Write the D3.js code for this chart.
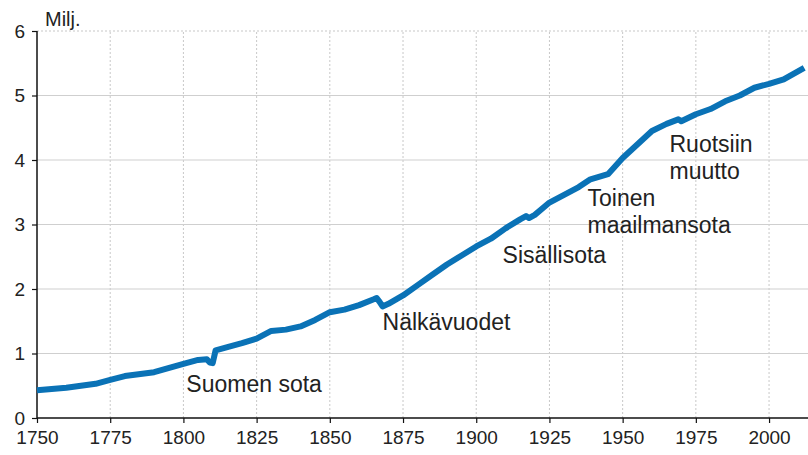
<!DOCTYPE html>
<html>
<head>
<meta charset="utf-8">
<script src="https://cdn.jsdelivr.net/npm/d3@7"></script>
<style>
  body { margin: 0; background: #fff; }
  text { font-family: "Liberation Sans", Arial, sans-serif; fill: #222; }
</style>
</head>
<body>
<div id="chart"></div>
<script>
// Finland population, millions
const years = [1750, 1760, 1770, 1775, 1780, 1790, 1800, 1805, 1808, 1809, 1810, 1811, 1815, 1820, 1825,
  1830, 1835, 1840, 1845, 1850, 1855, 1860, 1865, 1866, 1867, 1868, 1870, 1875, 1880, 1885, 1890, 1895,
  1900, 1905, 1910, 1915, 1917, 1918, 1920, 1925, 1930, 1935, 1939, 1945, 1950, 1955, 1960, 1965,
  1969, 1970, 1975, 1980, 1985, 1990, 1995, 2000, 2005, 2012]
const population = [0.43, 0.47, 0.53, 0.59, 0.65, 0.71, 0.84, 0.90, 0.91, 0.86, 0.85, 1.05, 1.10, 1.16, 1.23,
  1.35, 1.37, 1.42, 1.52, 1.64, 1.68, 1.75, 1.84, 1.86, 1.80, 1.73, 1.77, 1.90, 2.06, 2.22, 2.38, 2.52,
  2.66, 2.78, 2.94, 3.08, 3.13, 3.10, 3.15, 3.34, 3.46, 3.58, 3.70, 3.78, 4.03, 4.24, 4.45, 4.56,
  4.63, 4.60, 4.71, 4.79, 4.91, 5.00, 5.12, 5.18, 5.25, 5.43]
const xTicks = [1750, 1775, 1800, 1825, 1850, 1875, 1900, 1925, 1950, 1975, 2000]
const yTicks = [0, 1, 2, 3, 4, 5, 6]
const notes = [
  { lines: ['Suomen sota'], year: 1801, value: 0.41 },
  { lines: ['Nälkävuodet'], year: 1868, value: 1.37 },
  { lines: ['Sisällisota'], year: 1909, value: 2.41 },
  { lines: ['Toinen', 'maailmansota'], year: 1938, value: 3.29 },
  { lines: ['Ruotsiin', 'muutto'], year: 1966, value: 4.13 }
]

const width = 808
const height = 455
const margin = { top: 31, right: 0, bottom: 37, left: 37 }

const svg = d3.select('#chart')
  .append('svg')
  .attr('width', width)
  .attr('height', height)

const x = d3.scaleLinear().domain([1750, 2013.3]).range([margin.left, width - margin.right])
const y = d3.scaleLinear().domain([0, 6]).range([height - margin.bottom, margin.top])

// Grid
svg.append('g')
  .selectAll('line')
  .data(xTicks.slice(1))
  .join('line')
  .attr('x1', d => x(d)).attr('x2', d => x(d))
  .attr('y1', y(0)).attr('y2', y(6))
  .attr('stroke', '#c8c8c8')
  .attr('stroke-dasharray', '2,2')

svg.append('g')
  .selectAll('line')
  .data(yTicks.slice(1))
  .join('line')
  .attr('x1', x(1750)).attr('x2', width)
  .attr('y1', d => y(d)).attr('y2', d => y(d))
  .attr('stroke', d => d === 6 ? '#c8c8c8' : '#cfcfcf')
  .attr('stroke-dasharray', d => d === 6 ? '2,2' : null)
  .attr('stroke-width', 1.2)

// Axes
const xAxis = svg.append('g')
  .attr('transform', `translate(0,${y(0)})`)
  .call(d3.axisBottom(x).tickValues(xTicks).tickFormat(d3.format('d')).tickSize(5).tickPadding(8))
xAxis.select('.domain').attr('stroke', '#111').attr('stroke-width', 1.5).attr('d', `M${x(1750)},0H${width}`)

const yAxis = svg.append('g')
  .attr('transform', `translate(${x(1750)},0)`)
  .call(d3.axisLeft(y).tickValues(yTicks).tickFormat(d3.format('d')).tickSize(5).tickPadding(7))
yAxis.select('.domain').attr('stroke', '#111').attr('stroke-width', 1.5).attr('d', `M0,${y(0)}V${y(6)}`)

svg.selectAll('.tick line').attr('stroke', '#111').attr('stroke-width', 1.2)
svg.selectAll('.tick text').style('font-size', '19px').attr('fill', '#222')

svg.append('text')
  .text('Milj.')
  .attr('x', 45)
  .attr('y', 26)
  .style('font-size', '20px')

// Line
const line = d3.line()
  .x((d, i) => x(years[i]))
  .y(d => y(d))

svg.append('path')
  .datum(population)
  .attr('fill', 'none')
  .attr('stroke', '#0a72b6')
  .attr('stroke-width', 6)
  .attr('stroke-linejoin', 'round')
  .attr('d', line)

// Annotations
notes.forEach(n => {
  const t = svg.append('text')
    .attr('x', x(n.year))
    .attr('y', y(n.value))
    .style('font-size', '23px')
  n.lines.forEach((l, i) => {
    t.append('tspan').attr('x', x(n.year)).attr('dy', i === 0 ? 0 : 27).text(l)
  })
})
</script>
</body>
</html>
